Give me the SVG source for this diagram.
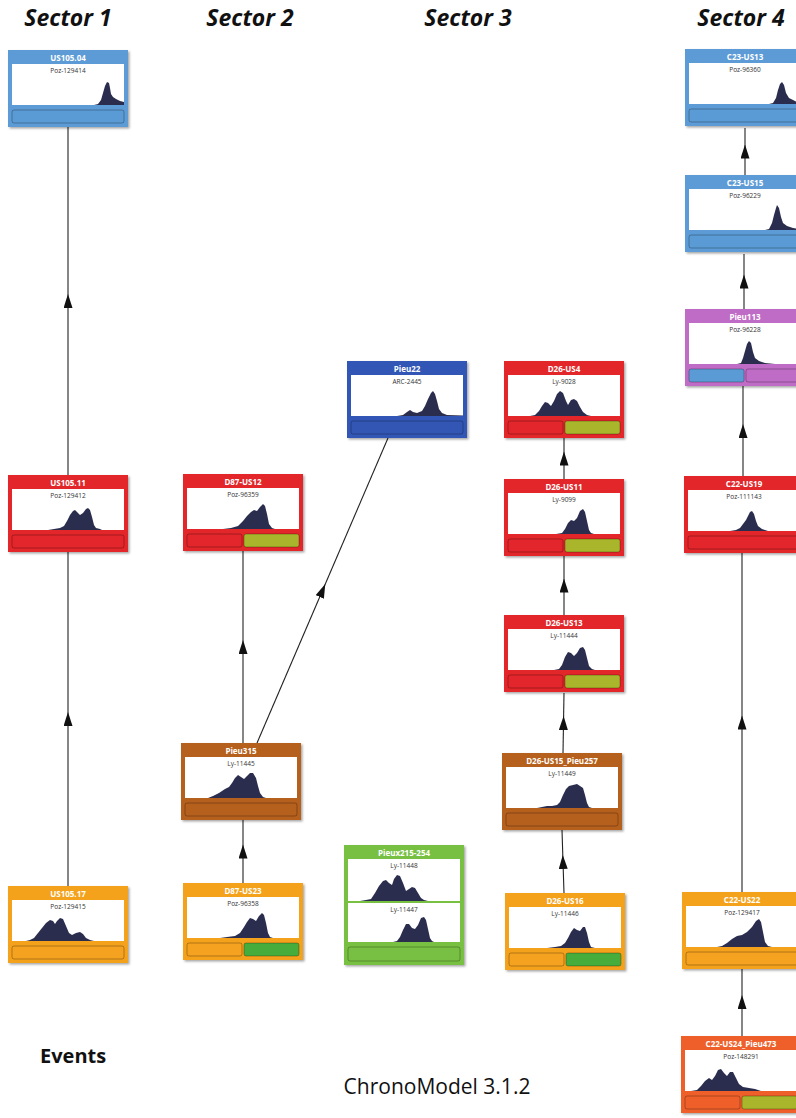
<svg xmlns="http://www.w3.org/2000/svg" width="796" height="1118" viewBox="0 0 796 1118">
<defs>
<style>
.hdr{font-family:"Open Sans","Liberation Sans",sans-serif;font-size:23px;font-weight:bold;font-style:italic;fill:#111;text-anchor:middle}
.ev{font-family:"Open Sans","Liberation Sans",sans-serif;font-size:20px;font-weight:bold;fill:#111}
.foot{font-family:"Open Sans","Liberation Sans",sans-serif;font-size:21px;fill:#111;text-anchor:middle}
.t{font-family:"Open Sans","Liberation Sans",sans-serif;font-size:8px;font-weight:bold;fill:#fff;text-anchor:middle}
.s{font-family:"Open Sans","Liberation Sans",sans-serif;font-size:6.5px;fill:#333;text-anchor:middle}
.w{fill:#fff}
.h{fill:#2b2d4e}
.bar{stroke:#000;stroke-opacity:0.35;stroke-width:0.8}
.box{filter:url(#sh)}
.blue{fill:#5b9bd5}
.red{fill:#e2262b}
.orange{fill:#f4a21f}
.brown{fill:#b5601c}
.dblue{fill:#3356b5}
.green{fill:#78c043}
.olive{fill:#a9b52a}
.lgreen{fill:#46ac3c}
.purple{fill:#bf6cc6}
.ored{fill:#ee5f2a}
.edge{stroke:#222;stroke-width:1.1;fill:none;marker-mid:url(#arr)}
</style>
<filter id="sh" x="-10%" y="-10%" width="130%" height="130%">
<feDropShadow dx="1.5" dy="1.5" stdDeviation="1" flood-color="#000" flood-opacity="0.35"/>
</filter>
<marker id="arr" viewBox="0 0 14 9" refX="7" refY="4.5" markerWidth="14" markerHeight="9" orient="auto" markerUnits="userSpaceOnUse">
<path d="M0,0 L14,4.5 L0,9 Z" fill="#111"/>
</marker>
</defs>
<rect width="796" height="1118" fill="#fff"/>

<g id="headers">
<text class="hdr" x="68" y="26">Sector 1</text>
<text class="hdr" x="250" y="26">Sector 2</text>
<text class="hdr" x="468" y="26">Sector 3</text>
<text class="hdr" x="741" y="26">Sector 4</text>
</g>

<g id="connectors">
<polyline class="edge" points="68,886 68,719 68,552"/>
<polyline class="edge" points="68,475 68,301 68,127"/>
<polyline class="edge" points="243,883 243,851.5 243,820"/>
<polyline class="edge" points="243,743 243,647 243,551"/>
<polyline class="edge" points="257,743 322.5,590.5 388,438"/>
<polyline class="edge" points="564,893 563,862 562,830"/>
<polyline class="edge" points="563,753 563.5,723 564,693"/>
<polyline class="edge" points="564,615 564,585.5 564,556"/>
<polyline class="edge" points="564,479 564,458.5 564,438"/>
<polyline class="edge" points="742,1036 742,1002 742,969"/>
<polyline class="edge" points="742,892 742,722.5 742,553"/>
<polyline class="edge" points="743,476 743,431 743,386"/>
<polyline class="edge" points="744,309 744,281.5 744,254"/>
<polyline class="edge" points="745,175 745,151.5 745,128"/>
</g>

<g id="n-US105.04" transform="translate(8,50)">
<rect class="box blue" width="120" height="77"/>
<text class="t" x="60" y="10.5">US105.04</text>
<rect class="w" x="4" y="14" width="112" height="41"/>
<text class="s" x="60" y="22.5">Poz-129414</text>
<path class="h" d="M86,55 L90,54 L93,50 L95,43 L97,36 L99,32 L101,33 L102,38 L103,44 L105,47 L108,49 L112,51 L116,52 L116,55 Z"/>
<rect class="bar blue" x="4" y="60" width="112" height="13" rx="2"/>
</g>

<g id="n-US105.11" transform="translate(8,475)">
<rect class="box red" width="120" height="77"/>
<text class="t" x="60" y="10.5">US105.11</text>
<rect class="w" x="4" y="14" width="112" height="41"/>
<text class="s" x="60" y="22.5">Poz-129412</text>
<path class="h" d="M40,55 L46,54 L52,53 L56,51 L59,46 L62,40 L65,36 L67,35 L69,37 L72,40 L75,38 L78,34 L80,33 L82,35 L84,42 L86,50 L88,53 L92,54 L94,55 Z"/>
<rect class="bar red" x="4" y="60" width="112" height="13" rx="2"/>
</g>

<g id="n-US105.17" transform="translate(8,886)">
<rect class="box orange" width="120" height="77"/>
<text class="t" x="60" y="10.5">US105.17</text>
<rect class="w" x="4" y="14" width="112" height="41"/>
<text class="s" x="60" y="22.5">Poz-129415</text>
<path class="h" d="M18,55 L22,54 L26,52 L30,47 L34,42 L38,37 L42,34 L45,35 L47,38 L49,35 L52,32 L55,33 L58,40 L61,47 L64,49 L68,47 L72,46 L75,48 L78,52 L82,54 L86,55 Z"/>
<rect class="bar orange" x="4" y="60" width="112" height="13" rx="2"/>
</g>

<g id="n-D87-US12" transform="translate(183,474)">
<rect class="box red" width="120" height="77"/>
<text class="t" x="60" y="10.5">D87-US12</text>
<rect class="w" x="4" y="14" width="112" height="41"/>
<text class="s" x="60" y="22.5">Poz-96359</text>
<path class="h" d="M40,55 L48,54 L55,52 L60,47 L64,42 L68,38 L71,36 L74,37 L77,33 L80,30 L82,32 L84,40 L86,50 L89,54 L92,55 Z"/>
<rect class="bar red" x="4" y="60" width="55" height="13" rx="2"/>
<rect class="bar olive" x="61" y="60" width="55" height="13" rx="2"/>
</g>

<g id="n-Pieu315" transform="translate(181,743)">
<rect class="box brown" width="120" height="77"/>
<text class="t" x="60" y="10.5">Pieu315</text>
<rect class="w" x="4" y="14" width="112" height="41"/>
<text class="s" x="60" y="22.5">Ly-11445</text>
<path class="h" d="M27,55 L32,53 L38,50 L44,46 L48,44 L51,40 L54,35 L57,32 L60,34 L63,36 L66,33 L69,30 L72,30 L75,35 L77,43 L79,50 L82,54 L85,55 Z"/>
<rect class="bar brown" x="4" y="60" width="112" height="13" rx="2"/>
</g>

<g id="n-D87-US23" transform="translate(183,883)">
<rect class="box orange" width="120" height="77"/>
<text class="t" x="60" y="10.5">D87-US23</text>
<rect class="w" x="4" y="14" width="112" height="41"/>
<text class="s" x="60" y="22.5">Poz-96358</text>
<path class="h" d="M37,55 L44,54 L52,53 L57,50 L61,44 L64,39 L67,35 L70,36 L73,38 L76,33 L79,30 L81,32 L83,40 L85,50 L87,54 L90,55 Z"/>
<rect class="bar orange" x="4" y="60" width="55" height="13" rx="2"/>
<rect class="bar lgreen" x="61" y="60" width="55" height="13" rx="2"/>
</g>

<g id="n-Pieu22" transform="translate(347,361)">
<rect class="box dblue" width="120" height="77"/>
<text class="t" x="60" y="10.5">Pieu22</text>
<rect class="w" x="4" y="14" width="112" height="41"/>
<text class="s" x="60" y="22.5">ARC-2445</text>
<path class="h" d="M50,55 L56,54 L60,51 L63,49 L66,51 L70,52 L75,50 L78,45 L81,38 L84,32 L86,30 L88,33 L90,40 L92,48 L95,52 L100,54 L116,54.5 L116,55 Z"/>
<rect class="bar dblue" x="4" y="60" width="112" height="13" rx="2"/>
</g>

<g id="n-Pieux215-254" transform="translate(344,845)">
<rect class="box green" width="120" height="120"/>
<text class="t" x="60" y="10.5">Pieux215-254</text>
<rect class="w" x="4" y="14" width="112" height="42"/>
<text class="s" x="60" y="22.5">Ly-11448</text>
<path class="h" d="M16,56 L22,55 L27,54 L31,48 L35,41 L39,36 L42,35 L45,38 L48,40 L50,34 L53,30 L56,31 L59,38 L62,46 L65,44 L68,42 L71,43 L74,48 L77,53 L80,55 L84,56 Z"/>
<rect class="w" x="4" y="58" width="112" height="39"/>
<text class="s" x="60" y="66.5">Ly-11447</text>
<path class="h" d="M49,97 L53,96 L56,92 L59,85 L62,79 L65,79 L68,83 L71,84 L74,80 L77,73 L80,72 L82,75 L84,84 L86,93 L88,96 L90,97 Z"/>
<rect class="bar green" x="4" y="102" width="112" height="14" rx="2"/>
</g>

<g id="n-D26-US4" transform="translate(504,361)">
<rect class="box red" width="120" height="77"/>
<text class="t" x="60" y="10.5">D26-US4</text>
<rect class="w" x="4" y="14" width="112" height="41"/>
<text class="s" x="60" y="22.5">Ly-9028</text>
<path class="h" d="M26,55 L31,54 L35,50 L38,45 L41,41 L44,42 L47,45 L50,40 L53,33 L56,30 L59,32 L62,40 L64,44 L67,39 L70,38 L73,40 L76,46 L79,51 L83,54 L87,55 Z"/>
<rect class="bar red" x="4" y="60" width="55" height="13" rx="2"/>
<rect class="bar olive" x="61" y="60" width="55" height="13" rx="2"/>
</g>

<g id="n-D26-US11" transform="translate(504,479)">
<rect class="box red" width="120" height="77"/>
<text class="t" x="60" y="10.5">D26-US11</text>
<rect class="w" x="4" y="14" width="112" height="41"/>
<text class="s" x="60" y="22.5">Ly-9099</text>
<path class="h" d="M52,55 L58,54 L61,50 L64,44 L67,41 L70,42 L73,39 L76,32 L79,30 L81,33 L83,42 L85,51 L87,54 L90,55 Z"/>
<rect class="bar red" x="4" y="60" width="55" height="13" rx="2"/>
<rect class="bar olive" x="61" y="60" width="55" height="13" rx="2"/>
</g>

<g id="n-D26-US13" transform="translate(504,615)">
<rect class="box red" width="120" height="77"/>
<text class="t" x="60" y="10.5">D26-US13</text>
<rect class="w" x="4" y="14" width="112" height="41"/>
<text class="s" x="60" y="22.5">Ly-11444</text>
<path class="h" d="M50,55 L55,54 L58,50 L61,42 L64,37 L67,38 L70,41 L73,38 L76,33 L79,32 L81,35 L83,43 L85,51 L88,54 L91,55 Z"/>
<rect class="bar red" x="4" y="60" width="55" height="13" rx="2"/>
<rect class="bar olive" x="61" y="60" width="55" height="13" rx="2"/>
</g>

<g id="n-D26-US15_Pieu257" transform="translate(502,753)">
<rect class="box brown" width="120" height="77"/>
<text class="t" x="60" y="10.5">D26-US15_Pieu257</text>
<rect class="w" x="4" y="14" width="112" height="41"/>
<text class="s" x="60" y="22.5">Ly-11449</text>
<path class="h" d="M35,55 L40,54 L45,53 L50,53 L55,52 L58,49 L61,42 L64,36 L67,33 L71,32 L75,31 L78,33 L81,35 L83,42 L85,50 L87,54 L90,55 Z"/>
<rect class="bar brown" x="4" y="60" width="112" height="13" rx="2"/>
</g>

<g id="n-D26-US16" transform="translate(505,893)">
<rect class="box orange" width="120" height="77"/>
<text class="t" x="60" y="10.5">D26-US16</text>
<rect class="w" x="4" y="14" width="112" height="41"/>
<text class="s" x="60" y="22.5">Ly-11446</text>
<path class="h" d="M42,55 L50,54 L56,53 L60,50 L63,45 L66,39 L69,35 L72,37 L75,38 L78,34 L80,34 L82,40 L84,49 L86,54 L90,55 Z"/>
<rect class="bar orange" x="4" y="60" width="55" height="13" rx="2"/>
<rect class="bar lgreen" x="61" y="60" width="55" height="13" rx="2"/>
</g>

<g id="n-C23-US13" transform="translate(685,49)">
<rect class="box blue" width="120" height="77"/>
<text class="t" x="60" y="10.5">C23-US13</text>
<rect class="w" x="4" y="14" width="112" height="41"/>
<text class="s" x="60" y="22.5">Poz-96360</text>
<path class="h" d="M84,55 L88,54 L91,49 L93,41 L95,35 L97,33 L99,36 L101,44 L104,49 L108,51 L112,53 L116,54 L116,55 Z"/>
<rect class="bar blue" x="4" y="60" width="112" height="13" rx="2"/>
</g>

<g id="n-C23-US15" transform="translate(685,175)">
<rect class="box blue" width="120" height="77"/>
<text class="t" x="60" y="10.5">C23-US15</text>
<rect class="w" x="4" y="14" width="112" height="41"/>
<text class="s" x="60" y="22.5">Poz-96229</text>
<path class="h" d="M80,55 L84,54 L87,48 L89,40 L91,33 L92,30 L94,33 L96,42 L98,48 L102,51 L108,53 L116,54 L116,55 Z"/>
<rect class="bar blue" x="4" y="60" width="112" height="13" rx="2"/>
</g>

<g id="n-Pieu113" transform="translate(685,309)">
<rect class="box purple" width="120" height="77"/>
<text class="t" x="60" y="10.5">Pieu113</text>
<rect class="w" x="4" y="14" width="112" height="41"/>
<text class="s" x="60" y="22.5">Poz-96228</text>
<path class="h" d="M52,55 L56,54 L58,49 L60,42 L62,35 L64,32 L66,34 L68,43 L70,49 L74,52 L80,54 L90,55 Z"/>
<rect class="bar blue" x="4" y="60" width="55" height="13" rx="2"/>
<rect class="bar purple" x="61" y="60" width="55" height="13" rx="2"/>
</g>

<g id="n-C22-US19" transform="translate(684,476)">
<rect class="box red" width="120" height="77"/>
<text class="t" x="60" y="10.5">C22-US19</text>
<rect class="w" x="4" y="14" width="112" height="41"/>
<text class="s" x="60" y="22.5">Poz-111143</text>
<path class="h" d="M46,55 L52,54 L56,52 L59,48 L62,44 L64,40 L66,36 L68,35 L70,38 L72,45 L74,50 L78,53 L84,55 Z"/>
<rect class="bar red" x="4" y="60" width="112" height="13" rx="2"/>
</g>

<g id="n-C22-US22" transform="translate(682,892)">
<rect class="box orange" width="120" height="77"/>
<text class="t" x="60" y="10.5">C22-US22</text>
<rect class="w" x="4" y="14" width="112" height="41"/>
<text class="s" x="60" y="22.5">Poz-129417</text>
<path class="h" d="M35,55 L40,54 L45,51 L50,47 L55,44 L60,43 L65,40 L70,35 L74,29 L77,27 L79,30 L81,40 L83,50 L86,54 L90,55 Z"/>
<rect class="bar orange" x="4" y="60" width="112" height="13" rx="2"/>
</g>

<g id="n-C22-US24_Pieu473" transform="translate(681,1036)">
<rect class="box ored" width="120" height="77"/>
<text class="t" x="60" y="10.5">C22-US24_Pieu473</text>
<rect class="w" x="4" y="14" width="112" height="41"/>
<text class="s" x="60" y="22.5">Poz-148291</text>
<path class="h" d="M10,55 L16,54 L20,50 L24,45 L28,42 L31,44 L34,40 L37,34 L40,33 L43,37 L46,40 L49,36 L52,36 L55,42 L58,48 L62,51 L68,52 L74,53 L80,55 Z"/>
<rect class="bar ored" x="4" y="60" width="55" height="13" rx="2"/>
<rect class="bar olive" x="61" y="60" width="55" height="13" rx="2"/>
</g>

<text class="ev" x="40" y="1063">Events</text>
<text class="foot" x="437" y="1094">ChronoModel 3.1.2</text>
</svg>
